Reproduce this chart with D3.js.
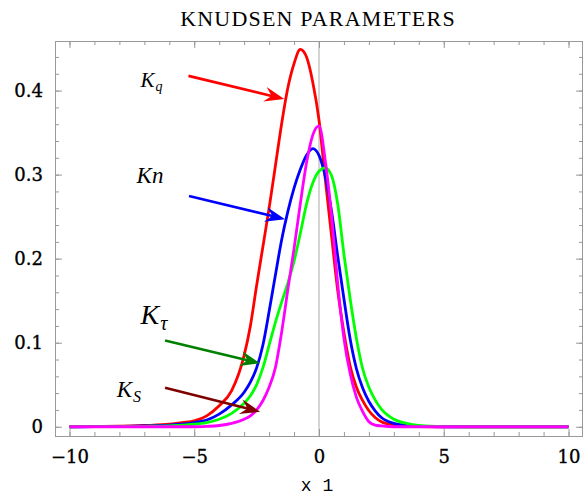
<!DOCTYPE html>
<html>
<head>
<meta charset="utf-8">
<script src="https://cdn.jsdelivr.net/npm/d3@7"></script>
<style>
  body { margin: 0; background: #fff; }
  svg { display: block; }
  .tick-label { font-family: "DejaVu Serif", serif; font-size: 18px; fill: #000; stroke: #000; stroke-width: 0.35px; }
</style>
</head>
<body>
<script>
// sample positions along x1
var xs = [-10, -9, -8, -7, -6, -5.5, -5, -4.5, -4, -3.5, -3, -2.75, -2.5, -2.25, -2,
  -1.75, -1.5, -1.25, -1, -0.75, -0.5, -0.25, 0, 0.25, 0.5, 0.75, 1, 1.25, 1.5, 1.75,
  2, 2.25, 2.5, 3, 3.5, 4, 5, 6, 7, 8, 9, 10];

// values
var kq = [0, 0.0002, 0.0006, 0.0015, 0.003, 0.005, 0.007, 0.013, 0.025, 0.043, 0.085, 0.12, 0.168, 0.214, 0.26,
  0.31, 0.36, 0.403, 0.432, 0.449, 0.44, 0.41, 0.365, 0.295, 0.228, 0.162, 0.112, 0.072, 0.047, 0.031,
  0.019, 0.011, 0.006, 0.002, 0.0006, 0.0002, 0, 0, 0, 0, 0, 0];
var kn = [0, 0.0001, 0.0004, 0.001, 0.002, 0.003, 0.005, 0.008, 0.015, 0.026, 0.041, 0.053, 0.07, 0.097, 0.137,
  0.18, 0.222, 0.256, 0.284, 0.306, 0.323, 0.331, 0.323, 0.298, 0.257, 0.203, 0.152, 0.104, 0.069, 0.046,
  0.03, 0.019, 0.011, 0.004, 0.0015, 0.0005, 0, 0, 0, 0, 0, 0];
var ktau = [0, 0.0001, 0.0002, 0.0005, 0.001, 0.002, 0.003, 0.005, 0.009, 0.016, 0.028, 0.037, 0.05, 0.07, 0.097,
  0.124, 0.148, 0.171, 0.197, 0.23, 0.265, 0.29, 0.304, 0.308, 0.299, 0.265, 0.205, 0.152, 0.105, 0.069,
  0.047, 0.032, 0.021, 0.009, 0.004, 0.0015, 0.0002, 0, 0, 0, 0, 0];
var ks = [0, 0, 0, 0, 0, 0, 0, 0.0005, 0.0015, 0.004, 0.009, 0.013, 0.02, 0.031, 0.047,
  0.07, 0.112, 0.163, 0.212, 0.265, 0.314, 0.347, 0.358, 0.317, 0.252, 0.17, 0.105, 0.063, 0.035, 0.018,
  0.006, 0.002, 0.001, 0, 0, 0, 0, 0, 0, 0, 0, 0];

var xMajor = [-10, -5, 0, 5, 10];
var xMajorLabels = ["\u221210", "\u22125", "0", "5", "10"];
var yMajor = [0, 0.1, 0.2, 0.3, 0.4];
var yMajorLabels = ["0", "0.1", "0.2", "0.3", "0.4"];

// annotation arrows: label position, arrow start and tip, in data units
var notes = [
  {k: "K", sub: "q", size: 21, subSize: 14, lx: -7.15, ly: 0.404, x0: -5.23, y0: 0.4175, x1: -1.39, y1: 0.39, color: "#ff0000"},
  {k: "Kn", sub: "", size: 23, subSize: 0, lx: -7.31, ly: 0.2905, x0: -5.21, y0: 0.2746, x1: -1.36, y1: 0.247, color: "#0000ff"},
  {k: "K", sub: "\u03c4", size: 28, subSize: 20, lx: -7.15, ly: 0.1219, x0: -6.17, y0: 0.1026, x1: -2.36, y1: 0.0755, color: "#008000"},
  {k: "K", sub: "S", size: 23, subSize: 16, lx: -8.11, ly: 0.035, x0: -6.17, y0: 0.0464, x1: -2.36, y1: 0.0179, color: "#800000"}
];

var W = 584, H = 495;
var frameL = 55, frameR = 583, frameT = 41, frameB = 436;

var svg = d3.select("body").append("svg").attr("width", W).attr("height", H);

var x = d3.scaleLinear().domain([-10.58, 10.58]).range([frameL, frameR]);
var y = d3.scaleLinear().domain([-0.011, 0.459]).range([frameB, frameT]);

// title
svg.append("text")
  .attr("x", 318).attr("y", 26)
  .attr("text-anchor", "middle")
  .style("font-family", "'Liberation Serif', serif")
  .style("font-size", "22px")
  .style("letter-spacing", "1.2px")
  .text("KNUDSEN PARAMETERS");

// vertical axis line at x=0
svg.append("line")
  .attr("x1", x(0)).attr("x2", x(0))
  .attr("y1", frameT).attr("y2", frameB)
  .attr("stroke", "#aaa").attr("stroke-width", 1);

// frame ticks (minor + major) on all sides
var xMinor = d3.range(-10, 11, 1);
var yMinor = d3.range(0, 0.45, 0.02);

function styleAxis(g) {
  g.select(".domain").remove();
  g.selectAll(".tick line").attr("stroke", "#999");
}

svg.append("g").attr("transform", "translate(0," + frameB + ")")
  .call(d3.axisBottom(x).tickValues(xMinor).tickSize(-4).tickFormat(""))
  .call(styleAxis);
svg.append("g").attr("transform", "translate(0," + frameT + ")")
  .call(d3.axisTop(x).tickValues(xMinor).tickSize(-4).tickFormat(""))
  .call(styleAxis);
svg.append("g").attr("transform", "translate(" + frameL + ",0)")
  .call(d3.axisLeft(y).tickValues(yMinor).tickSize(-4).tickFormat(""))
  .call(styleAxis);
svg.append("g").attr("transform", "translate(" + frameR + ",0)")
  .call(d3.axisRight(y).tickValues(yMinor).tickSize(-4).tickFormat(""))
  .call(styleAxis);

var gx = svg.append("g").attr("transform", "translate(0," + frameB + ")")
  .call(d3.axisBottom(x).tickValues(xMajor).tickSize(-7).tickPadding(14)
    .tickFormat(function(d, i) { return xMajorLabels[i]; }))
  .call(styleAxis);
svg.append("g").attr("transform", "translate(0," + frameT + ")")
  .call(d3.axisTop(x).tickValues(xMajor).tickSize(-7).tickFormat(""))
  .call(styleAxis);
var gy = svg.append("g").attr("transform", "translate(" + frameL + ",0)")
  .call(d3.axisLeft(y).tickValues(yMajor).tickSize(-7).tickPadding(12)
    .tickFormat(function(d, i) { return yMajorLabels[i]; }))
  .call(styleAxis);
svg.append("g").attr("transform", "translate(" + frameR + ",0)")
  .call(d3.axisRight(y).tickValues(yMajor).tickSize(-7).tickFormat(""))
  .call(styleAxis);

[gx, gy].forEach(function(g) {
  g.attr("font-family", null).attr("font-size", null);
  g.selectAll(".tick text").attr("class", "tick-label").attr("fill", "#000");
});

// frame
svg.append("rect")
  .attr("x", frameL + 0.5).attr("y", frameT + 0.5)
  .attr("width", frameR - frameL - 1).attr("height", frameB - frameT)
  .attr("fill", "none").attr("stroke", "#999").attr("stroke-width", 1);

// x axis label
svg.append("text")
  .attr("x", 317).attr("y", 491)
  .attr("text-anchor", "middle")
  .style("font-family", "'Liberation Mono', monospace")
  .style("font-size", "18px")
  .text("x 1");

// curves
var line = d3.line()
  .x(function(d) { return x(d[0]); })
  .y(function(d) { return y(d[1]); })
  .curve(d3.curveMonotoneX);

var series = [
  {vals: kq, color: "#ff0000"},
  {vals: kn, color: "#0000ff"},
  {vals: ktau, color: "#00ff00"},
  {vals: ks, color: "#ff00ff"}
];

series.forEach(function(s) {
  svg.append("path")
    .datum(xs.map(function(v, i) { return [v, s.vals[i]]; }))
    .attr("d", line)
    .attr("fill", "none")
    .attr("stroke", s.color)
    .attr("stroke-width", 2.8)
    .attr("stroke-linejoin", "round");
});

// annotations
notes.forEach(function(n) {
  var sx = x(n.x0), sy = y(n.y0), tx = x(n.x1), ty = y(n.y1);
  var ang = Math.atan2(ty - sy, tx - sx) * 180 / Math.PI;
  var len = Math.sqrt((tx - sx) * (tx - sx) + (ty - sy) * (ty - sy));
  var g = svg.append("g")
    .attr("transform", "translate(" + sx + "," + sy + ") rotate(" + ang + ")");
  g.append("line")
    .attr("x1", 0).attr("y1", 0).attr("x2", len - 12).attr("y2", 0)
    .attr("stroke", n.color).attr("stroke-width", 2.6);
  g.append("path")
    .attr("d", "M" + len + ",0 L" + (len - 20) + ",-7.5 L" + (len - 13) + ",0 L" + (len - 20) + ",7.5 Z")
    .attr("fill", n.color);

  var t = svg.append("text")
    .attr("x", x(n.lx)).attr("y", y(n.ly))
    .style("font-family", "'Liberation Serif', serif")
    .style("font-style", "italic");
  t.append("tspan").style("font-size", n.size + "px").text(n.k);
  if (n.sub) {
    t.append("tspan").attr("dy", n.subSize * 0.3).attr("dx", 1)
      .style("font-size", n.subSize + "px").text(n.sub);
  }
});
</script>
</body>
</html>
